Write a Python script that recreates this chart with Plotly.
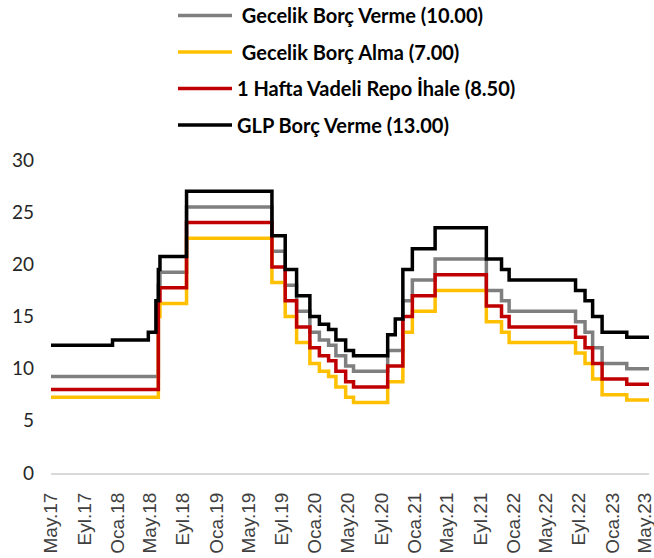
import plotly.graph_objects as go

# Change dates (step starts) and rate levels
dates = [
    "2017-05-01", "2017-12-14", "2018-04-25", "2018-05-23", "2018-06-01",
    "2018-06-07", "2018-09-13", "2019-07-25", "2019-09-12", "2019-10-24",
    "2019-12-12", "2020-01-16", "2020-02-19", "2020-03-17", "2020-04-22",
    "2020-05-21", "2020-09-24", "2020-10-22", "2020-11-19", "2020-12-24",
    "2021-03-18", "2021-09-23", "2021-11-18", "2021-12-16", "2022-08-18",
    "2022-09-22", "2022-10-20", "2022-11-24", "2023-02-23", "2023-05-16",
]
gecelik_borc_verme = [
    9.25, 9.25, 9.25, 9.25, 18.00, 19.25, 25.50, 21.25, 18.00, 15.50,
    13.50, 12.75, 12.25, 11.25, 10.25, 9.75, 11.75, 11.75, 16.50, 18.50,
    20.50, 17.50, 16.50, 15.50, 14.50, 13.50, 12.00, 10.50, 10.00, 10.00,
]
gecelik_borc_alma = [
    7.25, 7.25, 7.25, 7.25, 15.00, 16.25, 22.50, 18.25, 15.00, 12.50,
    10.50, 9.75, 9.25, 8.25, 7.25, 6.75, 8.75, 8.75, 13.50, 15.50,
    17.50, 14.50, 13.50, 12.50, 11.50, 10.50, 9.00, 7.50, 7.00, 7.00,
]
repo_ihale = [
    8.00, 8.00, 8.00, 8.00, 16.50, 17.75, 24.00, 19.75, 16.50, 14.00,
    12.00, 11.25, 10.75, 9.75, 8.75, 8.25, 10.25, 10.25, 15.00, 17.00,
    19.00, 16.00, 15.00, 14.00, 13.00, 12.00, 10.50, 9.00, 8.50, 8.50,
]
glp_borc_verme = [
    12.25, 12.75, 13.50, 16.50, 19.50, 20.75, 27.00, 22.75, 19.50, 17.00,
    15.00, 14.25, 13.75, 12.75, 11.75, 11.25, 13.25, 14.75, 19.50, 21.50,
    23.50, 20.50, 19.50, 18.50, 17.50, 16.50, 15.00, 13.50, 13.00, 13.00,
]

series_names = [
    "\u00a0Gecelik Borç Verme (10.00)",
    "\u00a0Gecelik Borç Alma (7.00)",
    "1 Hafta Vadeli Repo İhale (8.50)",
    "GLP Borç Verme (13.00)",
]
series_values = [gecelik_borc_verme, gecelik_borc_alma, repo_ihale, glp_borc_verme]
series_colors = ["#7f7f7f", "#ffc000", "#c00000", "#000000"]

tick_dates = [
    "2017-05-01", "2017-09-01", "2018-01-01", "2018-05-01", "2018-09-01",
    "2019-01-01", "2019-05-01", "2019-09-01", "2020-01-01", "2020-05-01",
    "2020-09-01", "2021-01-01", "2021-05-01", "2021-09-01", "2022-01-01",
    "2022-05-01", "2022-09-01", "2023-01-01", "2023-05-01",
]
tick_labels = [
    "May.17", "Eyl.17", "Oca.18", "May.18", "Eyl.18", "Oca.19", "May.19",
    "Eyl.19", "Oca.20", "May.20", "Eyl.20", "Oca.21", "May.21", "Eyl.21",
    "Oca.22", "May.22", "Eyl.22", "Oca.23", "May.23",
]

fig = go.Figure()
for i, (name, vals, col) in enumerate(zip(series_names, series_values, series_colors)):
    fig.add_trace(go.Scatter(
        x=dates, y=vals, name=name, mode="lines",
        line=dict(color=col, width=3.5, shape="hv"),
        legendgroup=f"g{i}",
    ))

PLOT_L, PLOT_R, PLOT_T, PLOT_B = 51, 649, 160, 473
pw = PLOT_R - PLOT_L
ph = PLOT_B - PLOT_T

fig.update_layout(
    width=654, height=558,
    margin=dict(l=PLOT_L, r=654 - PLOT_R, t=PLOT_T, b=558 - PLOT_B, autoexpand=False),
    paper_bgcolor="white", plot_bgcolor="white",
    showlegend=True,
    legend=dict(
        x=(173 - PLOT_L) / pw, y=1 + (PLOT_T + 4) / ph, xanchor="left", yanchor="top",
        font=dict(family="Lato", size=20, color="#000000", weight="bold"),
        tracegroupgap=7.5, itemwidth=54,
        bgcolor="rgba(0,0,0,0)",
    ),
    xaxis=dict(
        type="date", range=["2017-05-01", "2023-05-16"],
        tickvals=tick_dates, ticktext=tick_labels, tickangle=-90,
        tickfont=dict(family="Liberation Sans", size=19, color="#404040"),
        showgrid=False, zeroline=False, automargin=False,
        showline=True, linecolor="#d9d9d9", linewidth=2,
        ticks="", ticklabelstandoff=10, ticklabeloverflow="allow",
    ),
    yaxis=dict(
        range=[0, 30], tickvals=[0, 5, 10, 15, 20, 25, 30],
        tickfont=dict(family="Lato", size=19, color="#262626"),
        showgrid=False, zeroline=False, showline=False, automargin=False,
        ticks="", ticklabelstandoff=16,
    ),
)

fig.write_html(
    "out.html",
    config={"displayModeBar": False},
    post_script="document.body.style.margin='0';document.body.style.overflow='hidden';",
)
